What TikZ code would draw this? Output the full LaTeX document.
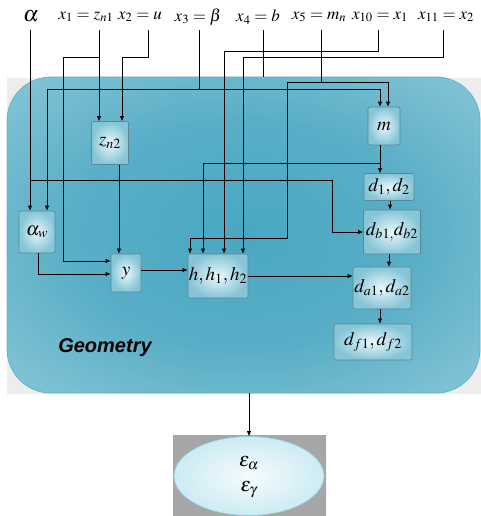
\documentclass[tikz,border=0pt]{standalone}
\usepackage{mathptmx}
\usepackage{fontspec}
\newfontfamily\geofont{Liberation Sans}
\usetikzlibrary{arrows.meta,calc,shapes.geometric}
\definecolor{panelmid}{HTML}{4AA7C1}
\definecolor{paneledge}{HTML}{A9D6E3}
\definecolor{panelline}{HTML}{5FB4CB}
\definecolor{boxin}{HTML}{EAF8FB}
\definecolor{boxout}{HTML}{86C5D6}
\definecolor{boxline}{HTML}{5A8794}
\definecolor{ellin}{HTML}{F4FBFD}
\definecolor{ellout}{HTML}{CDEBF3}
\definecolor{ellline}{HTML}{8DCDDF}
\pgfdeclareradialshading{panelglow}{\pgfpoint{0bp}{0bp}}{color(0bp)=(panelmid); color(18bp)=(panelmid!85!paneledge); color(48bp)=(paneledge); color(72bp)=(paneledge)}
\begin{document}
\begin{tikzpicture}[x=1pt,y=-1pt,
  var/.style={draw=boxline,line width=0.6pt,rounded corners=2pt,
    inner color=boxin,outer color=boxout,inner sep=0pt,
    font=\fontsize{19}{21}\selectfont},
  toplab/.style={font=\fontsize{17}{19}\selectfont,inner sep=0pt},
  link/.style={line width=0.7pt,black},
  arr/.style={link,-{Latex[length=5pt,width=4.5pt]}}]
\useasboundingbox (0,0) rectangle (481,516);

% background panel
\fill[gray!14] (7,78) rectangle (481,394);
\path[draw=panelline,line width=0.8pt,rounded corners=44pt,shading=panelglow]
  (7,77) rectangle (480,393);

% input labels
\node[toplab,font=\fontsize{22}{24}\selectfont] (la) at (31,16) {$\alpha$};
\node[toplab] (l1) at (86,17) {$x_1 = z_{n1}$};
\node[toplab] (l2) at (140,17) {$x_2 = u$};
\node[toplab] (l3) at (198,17) {$x_3 = \beta$};
\node[toplab] (l4) at (258,17) {$x_4 = b$};
\node[toplab] (l5) at (319,17) {$x_5 = m_n$};
\node[toplab] (l10) at (380,17) {$x_{10} = x_1$};
\node[toplab] (l11) at (446,17) {$x_{11} = x_2$};

\coordinate (ta) at (30,30);
\coordinate (t1) at (99,30);
\coordinate (t2) at (148,30);
\coordinate (tb) at (199,30);
\coordinate (t4) at (263,30);
\coordinate (t5) at (321,30);
\coordinate (t10) at (378,30);
\coordinate (t11) at (443,30);

% variable boxes
\node[var,minimum width=32pt,minimum height=38pt] (m) at (384,126) {$m$};
\node[var,minimum width=37pt,minimum height=43pt] (zn2) at (110,143) {$z_{n2}$};
\node[var,minimum width=36pt,minimum height=42pt] (aw) at (37,232) {$\alpha_w$};
\node[var,minimum width=30pt,minimum height=38pt] (y) at (126,273) {$y$};
\node[var,minimum width=60pt,minimum height=44pt] (h) at (218,276) {$h,h_1,h_2$};
\node[var,minimum width=50pt,minimum height=27pt] (d12) at (389,187) {$d_1,d_2$};
\node[var,minimum width=57pt,minimum height=44pt] (db) at (392,232) {$d_{b1,}d_{b2}$};
\node[var,minimum width=58pt,minimum height=42pt] (da) at (382,288) {$d_{a1},d_{a2}$};
\node[var,minimum width=78pt,minimum height=36pt] (df) at (373,342) {$d_{f1},d_{f2}$};

\node[font={\geofont\fontsize{20}{24}\selectfont\bfseries\itshape}] (geo) at (105,348) {Geometry};

% alpha
\draw[arr] (ta) -- (ta |- aw.north);
\draw[arr] (30,180) -| (332,232) -- (db.west);
% x3 = beta
\draw[link] (tb) -- (199,89);
\draw[arr] (47,89) -- ($(aw.north)+(10,0)$);
\draw[arr] (47,89) -| ($(m.north)+(-4,0)$);
% x1
\draw[arr] (t1) -- ($(zn2.north)+(-11,0)$);
\draw[arr] (99,57) -| (63,261) -- ($(y.west)+(0,-12)$);
% x2
\draw[arr] (t2) |- (122,57) -- ($(zn2.north)+(12,0)$);
% x4
\draw[link] (t4) -- (263,77);
% x5
\draw[link] (t5) -- (321,82);
\draw[arr] (287,82) -| ($(m.north)+(4,0)$);
\draw[arr] (287,82) |- (190,238) -- ($(h.north)+(-28,0)$);
% x10, x11
\draw[arr] (t10) |- (224,51) -- ($(h.north)+(6,0)$);
\draw[arr] (t11) |- (243,57) -- ($(h.north)+(25,0)$);
% m
\draw[arr] ($(m.south)+(-4,0)$) -- ($(d12.north)+(-9,0)$);
\draw[arr] (380,163) -| ($(h.north)+(-15,0)$);
% inner links
\draw[arr] ($(zn2.south)+(9,0)$) -- ($(y.north)+(-7,0)$);
\draw[arr] ($(aw.south)+(1,0)$) |- ($(y.west)+(0,1)$);
\draw[arr] ($(y.east)+(0,-3)$) -- ($(h.west)+(0,-6)$);
\draw[arr] (h.east) -- (h.east -| da.west);
\draw[arr] ($(d12.south)+(1,0)$) -- ($(db.north)+(-2,0)$);
\draw[arr] ($(db.south)+(-3,0)$) -- ($(da.north)+(7,0)$);
\draw[arr] ($(da.south)+(-2,0)$) -- ($(df.north)+(7,0)$);

% output
\path[inner color=gray!12,outer color=gray!70] (173,435) rectangle (326,516);
\node[ellipse,draw=ellline,line width=0.6pt,inner color=ellin,outer color=ellout,
  minimum width=150pt,minimum height=79pt,inner sep=0pt] (eps) at (249,476) {};
\node[font=\fontsize{20}{22}\selectfont,inner sep=0pt] (ea) at (249,463) {$\varepsilon_\alpha$};
\node[font=\fontsize{20}{22}\selectfont,inner sep=0pt] (eg) at (249,490) {$\varepsilon_\gamma$};
\coordinate (pb) at (249,393);
\draw[arr] (pb) -- (eps.north);
\end{tikzpicture}
\end{document}
